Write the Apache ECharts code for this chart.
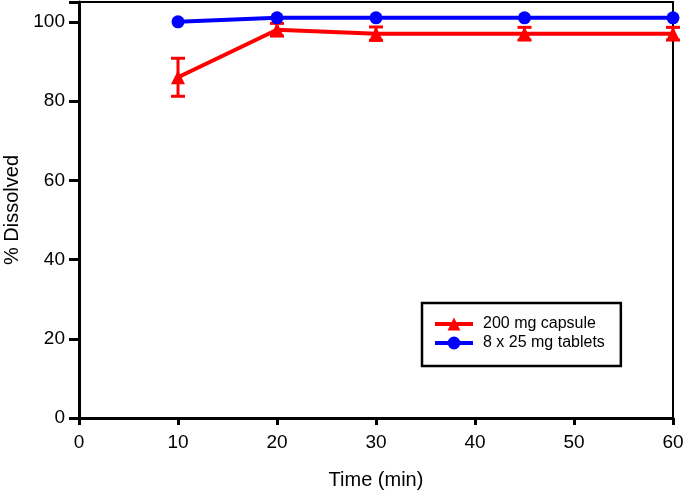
<!DOCTYPE html>
<html><head><meta charset="utf-8">
<script src="https://cdn.jsdelivr.net/npm/echarts@6/dist/echarts.min.js"></script>
<style>html,body{margin:0;padding:0;background:#fff}#c{width:685px;height:491px}</style>
</head><body><div id="c"></div>
<script>
const times = [10, 20, 30, 45, 60];
const capsuleMean = [86, 98, 97, 97, 97];
const capsuleSD = [4.8, 1.6, 1.7, 1.6, 1.6];
const tabletMean = [100, 101, 101, 101, 101];
const xTicks = [0, 10, 20, 30, 40, 50, 60];
const yTicks = [0, 20, 40, 60, 80, 100];

const chart = echarts.init(document.getElementById('c'));
const font = 'Liberation Sans, Arial, sans-serif';
const capData = times.map((t, i) => [t, capsuleMean[i]]);
const tabData = times.map((t, i) => [t, tabletMean[i]]);
const errData = times.map((t, i) => [t, capsuleMean[i] - capsuleSD[i], capsuleMean[i] + capsuleSD[i]]);

chart.setOption({
  animation: false,
  grid: {left: 79, right: 12, top: 2, bottom: 73, containLabel: false, outerBoundsMode: 'none',
    show: true, borderColor: '#000', borderWidth: 2, backgroundColor: 'transparent'},
  xAxis: {
    type: 'value', min: 0, max: 60, interval: 10,
    name: 'Time (min)', nameLocation: 'middle', nameGap: 52,
    nameTextStyle: {fontFamily: font, fontSize: 20, color: '#000'},
    axisLine: {show: true, lineStyle: {color: '#000', width: 3}},
    axisTick: {show: true, length: 7, lineStyle: {color: '#000', width: 3}},
    axisLabel: {fontFamily: font, fontSize: 19, color: '#000', margin: 15,
      formatter: v => xTicks.includes(v) ? String(v) : ''},
    splitLine: {show: false}
  },
  yAxis: {
    type: 'value', min: 0, max: 105, interval: 20,
    name: '% Dissolved', nameLocation: 'middle', nameGap: 57,
    nameTextStyle: {fontFamily: font, fontSize: 20, color: '#000'},
    axisLine: {show: true, lineStyle: {color: '#000', width: 3}},
    axisTick: {show: true, length: 10, lineStyle: {color: '#000', width: 3}},
    axisLabel: {fontFamily: font, fontSize: 19, color: '#000', margin: 14,
      formatter: v => yTicks.includes(v) ? String(v) : ''},
    splitLine: {show: false}
  },
  legend: {
    left: 422, top: 303,
    orient: 'vertical', padding: [13, 16, 15, 11], itemGap: 3,
    borderColor: '#000', borderWidth: 2.5, backgroundColor: '#fff',
    itemWidth: 38, itemHeight: 16,
    lineStyle: {width: 4},
    textStyle: {fontFamily: font, fontSize: 16, color: '#000', padding: [0, 0, 0, 5]},
    data: ['200 mg capsule', '8 x 25 mg tablets']
  },
  series: [
    {
      name: '200 mg capsule', type: 'line', data: capData,
      symbol: 'triangle', symbolSize: 14,
      lineStyle: {color: '#ff0000', width: 4},
      itemStyle: {color: '#ff0000'}, z: 3
    },
    {
      name: 'err', type: 'custom', data: errData, z: 4,
      renderItem: (params, api) => {
        const x = api.value(0);
        const lo = api.coord([x, api.value(1)]);
        const hi = api.coord([x, api.value(2)]);
        const w = 7;
        const st = {stroke: '#ff0000', lineWidth: 3};
        return {type: 'group', children: [
          {type: 'line', shape: {x1: lo[0], y1: lo[1], x2: hi[0], y2: hi[1]}, style: st},
          {type: 'line', shape: {x1: lo[0] - w, y1: lo[1], x2: lo[0] + w, y2: lo[1]}, style: st},
          {type: 'line', shape: {x1: hi[0] - w, y1: hi[1], x2: hi[0] + w, y2: hi[1]}, style: st}
        ]};
      }
    },
    {
      name: '8 x 25 mg tablets', type: 'line', data: tabData,
      symbol: 'circle', symbolSize: 13,
      lineStyle: {color: '#0000ff', width: 4},
      itemStyle: {color: '#0000ff'}, z: 5
    }
  ]
});
</script></body></html>
